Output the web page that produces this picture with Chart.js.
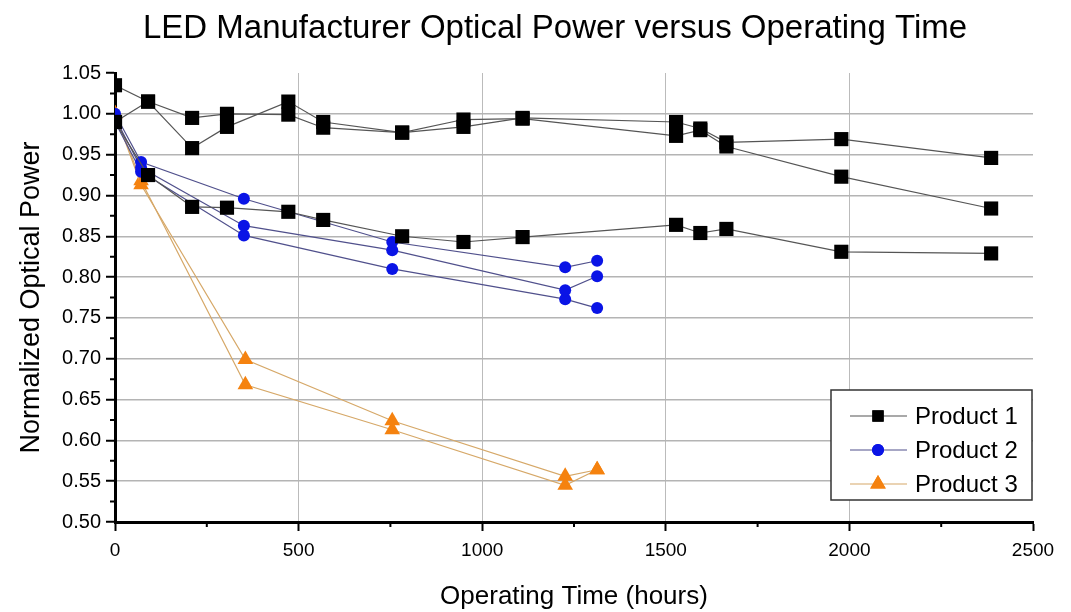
<!DOCTYPE html>
<html>
<head>
<meta charset="utf-8">
<script src="https://cdn.jsdelivr.net/npm/chart.js@4.4.0/dist/chart.umd.min.js"></script>
<style>
  html, body { margin: 0; padding: 0; background: #fff; }
  #wrap { width: 1071px; height: 612px; }
</style>
</head>
<body>
<div id="wrap"><canvas id="ledChart" width="1071" height="612"></canvas></div>
<script>
// operating time (hours) and normalized optical power
var p1Hours = [0, 90, 210, 305, 472, 567, 782, 949, 1110, 1528, 1594, 1665, 1978, 2386]
var p1RunA = [1.035, 1.015, 0.995, 1.000, 0.999, 0.983, 0.977, 0.984, 0.995, 0.990, 0.982, 0.965, 0.969, 0.946]
var p1RunB = [0.990, 1.015, 0.958, 0.984, 1.015, 0.990, 0.977, 0.993, 0.994, 0.973, 0.980, 0.960, 0.923, 0.884]
var p1RunC = [0.990, 0.925, 0.886, 0.885, 0.880, 0.870, 0.850, 0.843, 0.849, 0.864, 0.854, 0.859, 0.831, 0.829]

var p2Hours = [0, 71, 351, 755, 1226, 1313]
var p2RunA = [1.000, 0.941, 0.896, 0.843, 0.812, 0.820]
var p2RunB = [0.995, 0.934, 0.863, 0.833, 0.784, 0.801]
var p2RunC = [0.990, 0.929, 0.851, 0.810, 0.773, 0.762]

var p3Hours = [0, 71, 355, 755, 1226, 1313]
var p3RunA = [1.000, 0.913, 0.699, 0.624, 0.556, 0.564]
var p3RunB = [1.000, 0.918, 0.668, 0.613, 0.545, 0.564]

var productNames = ['Product 1', 'Product 2', 'Product 3']
var xTicks = [0, 500, 1000, 1500, 2000, 2500]
var yTicks = [0.50, 0.55, 0.60, 0.65, 0.70, 0.75, 0.80, 0.85, 0.90, 0.95, 1.00, 1.05]

var FONT = "'Liberation Sans', Arial, sans-serif"

function pairUp(hours, vals){
	var out = []
	for(var i = 0; i < hours.length; i++){
		out.push({x: hours[i], y: vals[i]})
	}
	return out
}

var styles = [
	{line: '#555555', fill: '#000000', point: 'rect', radius: 10},
	{line: '#50508c', fill: '#0a14e6', point: 'circle', radius: 6},
	{line: '#d6a868', fill: '#f5820f', point: 'triangle', radius: 9}
]

function makeSet(product, hours, vals, showInLegend){
	var s = styles[product]
	return {
		label: showInLegend ? productNames[product] : '',
		product: product,
		data: pairUp(hours, vals),
		borderColor: s.line,
		borderWidth: 1.2,
		backgroundColor: s.fill,
		pointBackgroundColor: s.fill,
		pointBorderColor: s.fill,
		pointBorderWidth: 0,
		pointStyle: s.point,
		pointRadius: s.radius,
		tension: 0
	}
}

var datasets = [
	makeSet(0, p1Hours, p1RunA, true),
	makeSet(0, p1Hours, p1RunB, false),
	makeSet(0, p1Hours, p1RunC, false),
	makeSet(1, p2Hours, p2RunA, true),
	makeSet(1, p2Hours, p2RunB, false),
	makeSet(1, p2Hours, p2RunC, false),
	makeSet(2, p3Hours, p3RunA, true),
	makeSet(2, p3Hours, p3RunB, false)
]

function isMajor(v, list){
	for(var i = 0; i < list.length; i++){
		if(Math.abs(list[i] - v) < 1e-6) return true
	}
	return false
}

function legendMarker(ctx, style, x, y){
	var r = {rect: 8, circle: 6, triangle: 9}[style]
	ctx.beginPath()
	Chart.helpers.drawPoint(ctx, {pointStyle: style, rotation: 0, borderWidth: 0, radius: r}, x, y)
	ctx.fill()
}

// short minor ticks (major ticks come from the scales)
var minorTickPlugin = {
	id: 'minorTicks',
	afterDraw: function(chart){
		var ctx = chart.ctx
		var xs = chart.scales.x, ys = chart.scales.y
		ctx.save()
		ctx.strokeStyle = '#000'
		ctx.lineWidth = 2
		ctx.beginPath()
		xs.ticks.forEach(function(t){
			if(isMajor(t.value, xTicks)) return
			var px = xs.getPixelForValue(t.value)
			ctx.moveTo(px, ys.bottom)
			ctx.lineTo(px, ys.bottom + 5)
		})
		ys.ticks.forEach(function(t){
			if(isMajor(t.value, yTicks)) return
			var py = ys.getPixelForValue(t.value)
			ctx.moveTo(xs.left, py)
			ctx.lineTo(xs.left - 5, py)
		})
		ctx.stroke()
		ctx.restore()
	}
}

// title + boxed legend with line through the marker
var decorPlugin = {
	id: 'decor',
	afterDraw: function(chart){
		var ctx = chart.ctx
		ctx.save()
		ctx.fillStyle = '#000'
		ctx.font = '33px ' + FONT
		ctx.textAlign = 'center'
		ctx.textBaseline = 'middle'
		ctx.fillText('LED Manufacturer Optical Power versus Operating Time', 555, 29)

		var bx = 831, by = 390, bw = 201, bh = 110
		ctx.fillStyle = '#fff'
		ctx.fillRect(bx, by, bw, bh)
		ctx.strokeStyle = '#333'
		ctx.lineWidth = 1.5
		ctx.strokeRect(bx, by, bw, bh)

		var shown = chart.data.datasets.filter(function(d){ return d.label !== '' })
		for(var i = 0; i < shown.length; i++){
			var d = shown[i]
			var s = styles[d.product]
			var cy = by + 26 + i * 34
			ctx.strokeStyle = s.line
			ctx.lineWidth = 1.2
			ctx.beginPath()
			ctx.moveTo(bx + 19, cy)
			ctx.lineTo(bx + 76, cy)
			ctx.stroke()
			ctx.fillStyle = s.fill
			legendMarker(ctx, s.point, bx + 47, cy)
			ctx.fillStyle = '#000'
			ctx.font = '24px ' + FONT
			ctx.textAlign = 'left'
			ctx.fillText(d.label, bx + 84, cy + 1)
		}
		ctx.restore()
	}
}

var chartCanvas = document.getElementById('ledChart').getContext('2d')
var ledChart = new Chart(chartCanvas, {
	type: 'line',
	data: {datasets: datasets},
	plugins: [minorTickPlugin, decorPlugin],
	options: {
		responsive: false,
		animation: false,
		layout: {padding: {top: 73, right: 38, left: 0, bottom: 0}},
		plugins: {
			legend: {display: false},
			title: {display: false},
			tooltip: {enabled: false}
		},
		scales: {
			x: {
				type: 'linear',
				min: 0,
				max: 2500,
				afterFit: function(scale){ scale.height = 90 },
				border: {color: '#000', width: 3},
				grid: {
					color: function(c){
						var v = c.tick.value
						return (v > 0 && v < 2500 && isMajor(v, xTicks)) ? '#bbbbbb' : 'rgba(0,0,0,0)'
					},
					lineWidth: 1,
					tickColor: function(c){ return isMajor(c.tick.value, xTicks) ? '#000' : 'rgba(0,0,0,0)' },
					tickLength: 9,
					tickWidth: 2
				},
				ticks: {
					stepSize: 250,
					autoSkip: false,
					maxRotation: 0,
					padding: 8,
					color: '#000',
					font: {family: FONT, size: 19},
					callback: function(v){ return isMajor(v, xTicks) ? String(v) : '' }
				},
				title: {
					display: true,
					text: 'Operating Time (hours)',
					color: '#000',
					font: {family: FONT, size: 26},
					padding: {top: 4, bottom: 0}
				}
			},
			y: {
				type: 'linear',
				min: 0.5,
				max: 1.05,
				afterFit: function(scale){ scale.width = 115 },
				border: {color: '#000', width: 3},
				grid: {
					color: function(c){
						var v = c.tick.value
						return (v > 0.501 && v < 1.049 && isMajor(v, yTicks)) ? '#b4b4b4' : 'rgba(0,0,0,0)'
					},
					lineWidth: 1.5,
					tickColor: function(c){ return isMajor(c.tick.value, yTicks) ? '#000' : 'rgba(0,0,0,0)' },
					tickLength: 9,
					tickWidth: 2
				},
				ticks: {
					stepSize: 0.025,
					autoSkip: false,
					padding: 5,
					color: '#000',
					font: {family: FONT, size: 20},
					callback: function(v){ return isMajor(v, yTicks) ? v.toFixed(2) : '' }
				},
				title: {
					display: true,
					text: 'Normalized Optical Power',
					color: '#000',
					font: {family: FONT, size: 27},
					padding: {top: 15, bottom: 0}
				}
			}
		}
	}
})
</script>
</body>
</html>
